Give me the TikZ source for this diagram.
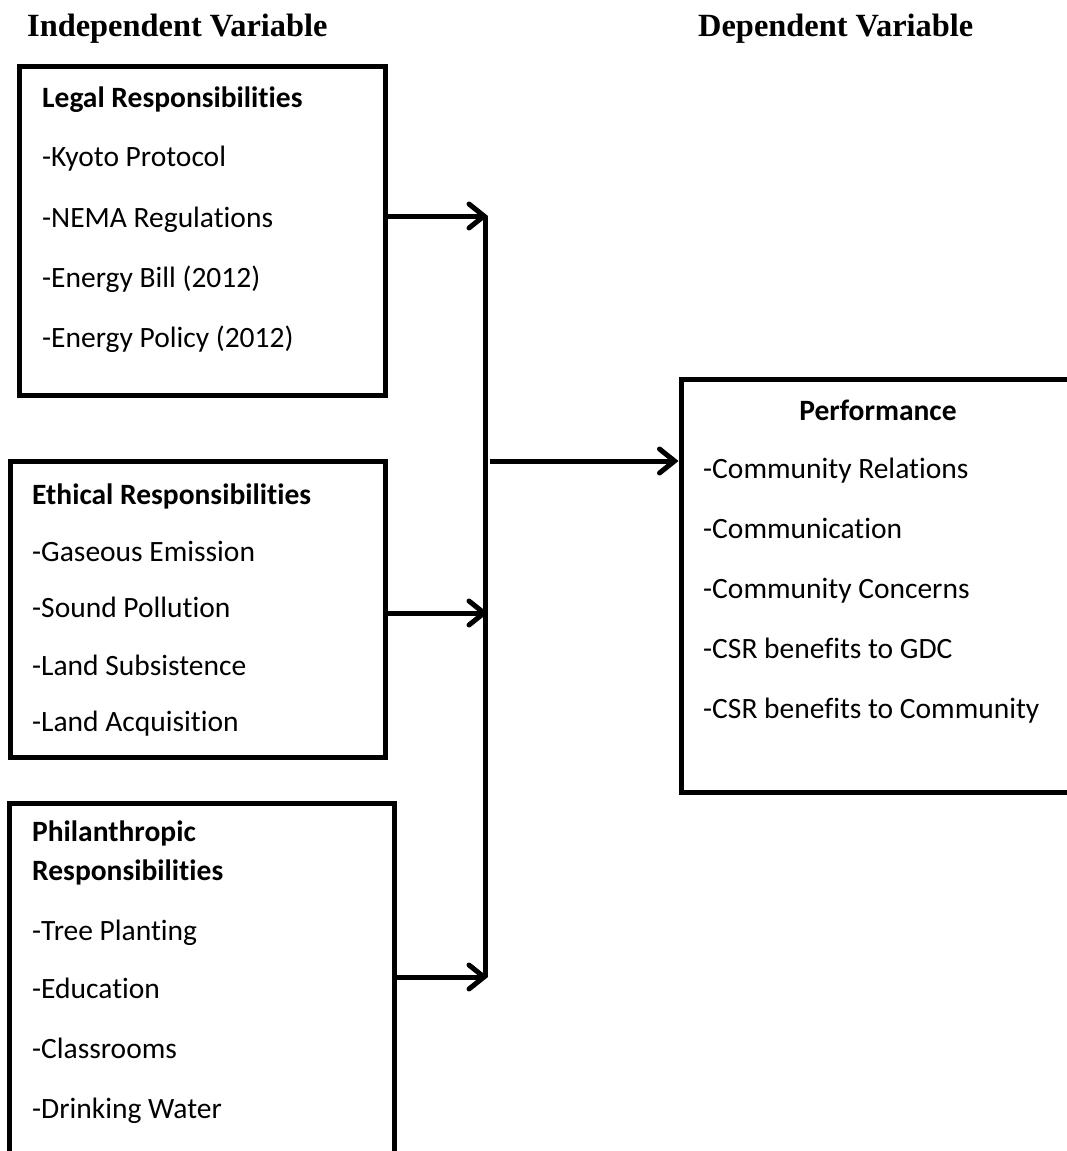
\documentclass[tikz,border=0pt]{standalone}
\usepackage{fontspec}
\setmainfont[Ligatures={NoCommon}]{Carlito}
\newfontfamily\titlefont{Liberation Serif}
\usetikzlibrary{arrows.meta}
\tikzset{
  box/.style={draw, line width=5pt, rectangle, inner sep=0pt},
  itemtxt/.style={anchor=base west, inner sep=0pt, font=\fontsize{29.5}{32}\selectfont},
  headtxt/.style={anchor=base west, inner sep=0pt, font=\fontsize{29.5}{32}\selectfont\bfseries},
  vartitle/.style={anchor=base west, inner sep=0pt, font=\titlefont\fontsize{32.4}{36}\selectfont\bfseries},
  conn/.style={line width=5pt},
  arr/.style={line width=5pt, -{Straight Barb[length=15pt, width=24pt, line cap=round]}}
}
\begin{document}
\begin{tikzpicture}[x=1pt, y=-1pt]
\useasboundingbox (0,0) rectangle (1066,1151);
% titles
\node[vartitle] (tind) at (27,36) {Independent Variable};
\node[vartitle] (tdep) at (698,36) {Dependent Variable};
% boxes
\node[box, minimum width=365.5pt, minimum height=329pt] (legal) at (202.25,231) {};
\node[box, minimum width=375pt, minimum height=296pt] (ethical) at (197.5,609) {};
\node[box, minimum width=385pt, minimum height=360pt] (phil) at (201.5,983) {};
\node[box, minimum width=394pt, minimum height=413pt] (perf) at (878,585.5) {};
% legal text
\node[headtxt] (l0) at (42,107) {Legal Responsibilities};
\node[itemtxt] (l1) at (42,166) {-Kyoto Protocol};
\node[itemtxt] (l2) at (42,227) {-NEMA Regulations};
\node[itemtxt] (l3) at (42,287) {-Energy Bill (2012)};
\node[itemtxt] (l4) at (42,347) {-Energy Policy (2012)};
% ethical text
\node[headtxt] (e0) at (32,504) {Ethical Responsibilities};
\node[itemtxt] (e1) at (32,561) {-Gaseous Emission};
\node[itemtxt] (e2) at (32,617) {-Sound Pollution};
\node[itemtxt] (e3) at (32,675) {-Land Subsistence};
\node[itemtxt] (e4) at (32,731) {-Land Acquisition};
% philanthropic text
\node[headtxt] (p0) at (32,841) {Philanthropic};
\node[headtxt] (p0b) at (32,880) {Responsibilities};
\node[itemtxt] (p1) at (32,940) {-Tree Planting};
\node[itemtxt] (p2) at (32,998) {-Education};
\node[itemtxt] (p3) at (32,1058) {-Classrooms};
\node[itemtxt] (p4) at (32,1118) {-Drinking Water};
% performance text
\node[anchor=base, inner sep=0pt, font=\fontsize{29.5}{32}\selectfont\bfseries] (r0) at (878,420) {Performance};
\node[itemtxt] (r1) at (703,478) {-Community Relations};
\node[itemtxt] (r2) at (703,538) {-Communication};
\node[itemtxt] (r3) at (703,598) {-Community Concerns};
\node[itemtxt] (r4) at (703,658) {-CSR benefits to GDC};
\node[itemtxt] (r5) at (703,718) {-CSR benefits to Community};
% connectors
\coordinate (j1) at (485,216);
\coordinate (j2) at (485,613);
\coordinate (j3) at (485,977);
\coordinate (jm) at (490,461);
\draw[conn] (j1) -- (j3);
\draw[arr] (legal.east |- j1) -- ([xshift=3pt]j1);
\draw[arr] (ethical.east |- j2) -- ([xshift=3pt]j2);
\draw[arr] (phil.east |- j3) -- ([xshift=3pt]j3);
\draw[arr] (jm) -- (perf.west |- jm);
\end{tikzpicture}
\end{document}
